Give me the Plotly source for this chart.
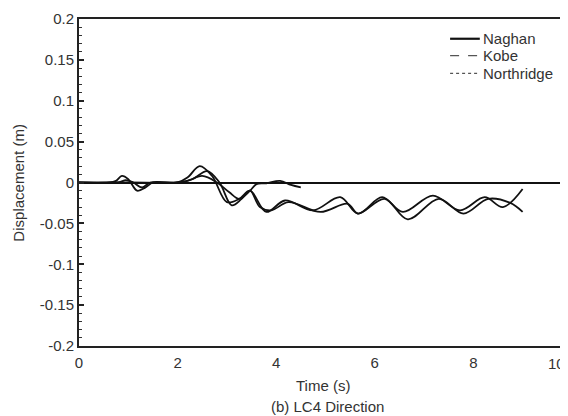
import plotly.graph_objects as go

# ---- data ----
naghan_t = [0, 0.6, 0.75, 0.87, 1.0, 1.18, 1.35, 1.5, 2.0, 2.2, 2.45, 2.7, 3.0, 3.25, 3.47,
            3.8, 4.18, 4.75, 5.3, 5.66, 6.15, 6.57, 7.18, 7.73, 8.23, 8.6, 9.0]
naghan_d = [0, 0, 0.002, 0.008, 0.004, -0.010, -0.006, 0, 0, 0.006, 0.020, 0.008, -0.024, -0.020, -0.010,
            -0.036, -0.022, -0.034, -0.018, -0.038, -0.018, -0.036, -0.016, -0.034, -0.018, -0.030, -0.008]

kobe_t = [0, 0.8, 0.95, 1.1, 1.28, 1.45, 2.0, 2.3, 2.6, 2.85, 3.1, 3.3, 3.47, 3.67, 3.9,
          4.25, 4.9, 5.45, 5.66, 6.2, 6.67, 7.3, 7.8, 8.3, 8.75, 9.0]
kobe_d = [0, 0, 0.003, 0, -0.006, 0, 0, 0.004, 0.014, 0.0, -0.028, -0.020, -0.010, -0.030, -0.034,
          -0.024, -0.036, -0.026, -0.038, -0.020, -0.045, -0.020, -0.038, -0.020, -0.025, -0.036]

northridge_t = [0, 1.0, 2.0, 2.2, 2.5, 2.8, 3.05, 3.25, 3.47, 3.6, 3.8, 4.08, 4.3, 4.5]
northridge_d = [0, 0, 0, 0.002, 0.008, 0.0, -0.012, -0.020, -0.010, -0.002, -0.001, 0.002, -0.003, -0.006]

series_names = ["Naghan", "Kobe", "Northridge"]
legend_dash = ["solid", "dash", "dot"]

x_tickvals = [0, 2, 4, 6, 8]
x_ticktext = ["0", "2", "4", "6", "8"]
x_extra_tick = "10"
y_tickvals = [0.2, 0.15, 0.1, 0.05, 0, -0.05, -0.1, -0.15, -0.2]
y_ticktext = ["0.2", "0.15", "0.1", "0.05", "0", "-0.05", "-0.1", "-0.15", "-0.2"]
zero_ticks = [2, 4, 6, 8]

XMAX = 9.88
FONT = "Liberation Sans, Arial, sans-serif"
TXT = "#333333"

fig = go.Figure()
for t, d, nm in [(naghan_t, naghan_d, series_names[0]), (kobe_t, kobe_d, series_names[1]),
                 (northridge_t, northridge_d, series_names[2])]:
    fig.add_trace(go.Scatter(x=t, y=d, mode="lines", name=nm, showlegend=False, hoverinfo="skip",
                             line=dict(color="#111111", width=1.8, shape="spline", smoothing=1.0)))

# (page body adds an 8px offset, so the figure is 8px smaller than the window)
fig.update_layout(
    width=560, height=408,
    margin=dict(l=71, r=2, t=7, b=70),
    paper_bgcolor="white", plot_bgcolor="white",
    font=dict(family=FONT, size=15, color=TXT),
    showlegend=False,
    xaxis=dict(range=[0, XMAX], tickvals=x_tickvals, ticktext=x_ticktext,
               showgrid=False, zeroline=False, showline=True, linecolor="#222222",
               linewidth=2, mirror=True, ticks="", ticklabelstandoff=2,
               tickfont=dict(size=15, color=TXT)),
    xaxis2=dict(range=[0, XMAX], overlaying="x", anchor="free", position=0.5,
                tickvals=zero_ticks, showticklabels=False, showgrid=False, zeroline=False,
                showline=False, ticks="outside", ticklen=4, tickwidth=1.5, tickcolor="#111111"),
    xaxis3=dict(range=[0, XMAX], overlaying="x", anchor="free", position=0.5,
                tickvals=zero_ticks, showticklabels=False, showgrid=False, zeroline=False,
                showline=False, ticks="inside", ticklen=5, tickwidth=1.5, tickcolor="#111111"),
    yaxis=dict(range=[-0.2, 0.2], tickvals=y_tickvals, ticktext=y_ticktext,
               showgrid=False, zeroline=True, zerolinecolor="#111111", zerolinewidth=1.5,
               showline=True, linecolor="#222222", linewidth=2,
               ticks="inside", ticklen=5, tickwidth=1.5, tickcolor="#222222",
               ticklabeloverflow="allow",
               minor=dict(dtick=0.01, ticks="inside", ticklen=3, tickwidth=1, tickcolor="#333333"),
               tickfont=dict(size=15, color=TXT)),
)

# thin right border
fig.add_shape(type="line", xref="paper", yref="paper", x0=1, x1=1, y0=0, y1=1,
              line=dict(color="#bbbbbb", width=1))

# legend (drawn by hand to match the compact spacing)
leg_y = [0.9396, 0.888, 0.834]
leg_w = [2.2, 1.3, 1.3]
leg_c = ["#111111", "#555555", "#555555"]
for nm, ds, yy, w, c in zip(series_names, legend_dash, leg_y, leg_w, leg_c):
    fig.add_shape(type="line", xref="paper", yref="paper", x0=0.762, x1=0.823, y0=yy, y1=yy,
                  line=dict(color=c, width=w, dash=ds))
    fig.add_annotation(x=0.826, y=yy, xref="paper", yref="paper", text=nm, showarrow=False,
                       xanchor="left", yanchor="middle", font=dict(size=15, color=TXT))

# the "10" tick label, tucked against the right edge
fig.add_annotation(x=1.003, y=0, xref="paper", yref="paper", text=x_extra_tick, showarrow=False,
                   yshift=-17, font=dict(size=15, color=TXT), xanchor="right", yanchor="middle")
# axis titles & caption
fig.add_annotation(x=-0.125, y=0.5, xref="paper", yref="paper", text="Displacement (m)",
                   textangle=-90, showarrow=False, xanchor="center", yanchor="middle",
                   font=dict(size=15, color=TXT))
fig.add_annotation(x=0.5, y=-0.12, xref="paper", yref="paper", text="Time (s)",
                   showarrow=False, font=dict(size=15, color=TXT), xanchor="center", yanchor="middle")
fig.add_annotation(x=0.51, y=-0.185, xref="paper", yref="paper", text="(b) LC4 Direction",
                   showarrow=False, font=dict(size=15, color=TXT), xanchor="center", yanchor="middle")

fig.write_html("out.html")
